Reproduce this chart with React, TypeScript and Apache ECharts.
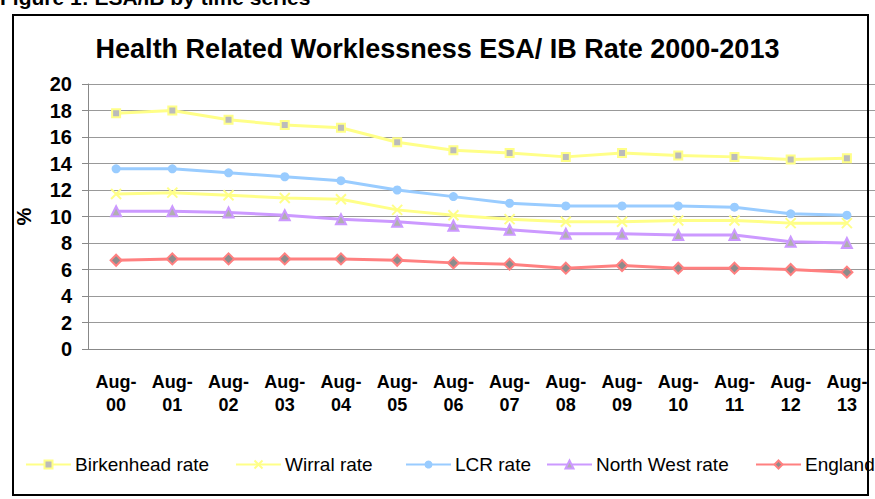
import React, { useEffect, useRef } from "react";
import * as echarts from "echarts";

const categories = ["Aug-\n00", "Aug-\n01", "Aug-\n02", "Aug-\n03", "Aug-\n04", "Aug-\n05", "Aug-\n06", "Aug-\n07", "Aug-\n08", "Aug-\n09", "Aug-\n10", "Aug-\n11", "Aug-\n12", "Aug-\n13"];
const birkenhead = [17.8, 18.0, 17.3, 16.9, 16.7, 15.6, 15.0, 14.8, 14.5, 14.8, 14.6, 14.5, 14.3, 14.4];
const wirral = [11.7, 11.8, 11.6, 11.4, 11.3, 10.5, 10.1, 9.8, 9.6, 9.6, 9.7, 9.7, 9.5, 9.5];
const lcr = [13.6, 13.6, 13.3, 13.0, 12.7, 12.0, 11.5, 11.0, 10.8, 10.8, 10.8, 10.7, 10.2, 10.1];
const northWest = [10.4, 10.4, 10.3, 10.1, 9.8, 9.6, 9.3, 9.0, 8.7, 8.7, 8.6, 8.6, 8.1, 8.0];
const england = [6.7, 6.8, 6.8, 6.8, 6.8, 6.7, 6.5, 6.4, 6.1, 6.3, 6.1, 6.1, 6.0, 5.8];
const seriesNames = ["Birkenhead rate", "Wirral rate", "LCR rate", "North West rate", "England"];
const legendLeft = [25, 235, 405, 546, 755];

const FONT = "'Liberation Sans', Arial, sans-serif";
const YELLOW = "#FFFF88";
const BLUE = "#99CCFF";
const PURPLE = "#CC99FF";
const RED = "#FF8080";

export default function App() {
  const ref = useRef<HTMLDivElement>(null);
  useEffect(() => {
    document.body.style.margin = "0";
    const chart = echarts.init(ref.current!, null, { renderer: "svg" });
    const lineBase = (name: string, data: number[], color: string, extra: any) => ({
      name,
      type: "line",
      data,
      lineStyle: { color, width: 3 },
      ...extra,
    });
    chart.setOption({
      animation: false,
      backgroundColor: "#fff",
      textStyle: { fontFamily: FONT },
      title: {
        text: "Health Related Worklessness ESA/ IB Rate 2000-2013",
        left: "center",
        top: 30,
        textStyle: { fontFamily: FONT, fontWeight: "bold", fontSize: 27, color: "#000" },
      },
      grid: { left: 88, right: -7, top: 84, bottom: 150 },
      legend: seriesNames.map((n, i) => ({
        data: [n],
        left: legendLeft[i],
        top: 455,
        padding: 0,
        itemGap: 0,
        itemWidth: 45,
        itemHeight: 10,
        textStyle: { fontFamily: FONT, fontSize: 19, color: "#000", padding: [0, 0, 0, -1] },
      })),
      xAxis: {
        type: "category",
        data: categories,
        boundaryGap: true,
        axisLine: { lineStyle: { color: "#888", width: 1 } },
        axisTick: { length: 5, lineStyle: { color: "#888" } },
        axisLabel: {
          interval: 0,
          margin: 21,
          color: "#000",
          fontFamily: FONT,
          fontWeight: "bold",
          fontSize: 18,
          lineHeight: 23,
        },
      },
      yAxis: {
        type: "value",
        min: 0,
        max: 20,
        interval: 2,
        name: "%",
        nameLocation: "middle",
        nameRotate: 90,
        nameGap: 54,
        nameTextStyle: { fontFamily: FONT, fontWeight: "bold", fontSize: 20, color: "#000" },
        axisLine: { show: true, lineStyle: { color: "#888", width: 1 } },
        axisTick: { show: true, length: 6, lineStyle: { color: "#888" } },
        axisLabel: { margin: 16, color: "#000", fontFamily: FONT, fontWeight: "bold", fontSize: 20 },
        splitLine: { lineStyle: { color: "#999", width: 1 } },
      },
      graphic: [
        {
          type: "text",
          left: 0,
          top: -13,
          style: { text: "Figure 1: ESA/IB by time series", font: "bold 21px 'Liberation Sans', Arial, sans-serif", fill: "#000" },
        },
        {
          type: "rect",
          shape: { x: 13, y: 15, width: 855, height: 480 },
          style: { fill: "none", stroke: "#000", lineWidth: 2 },
          silent: true,
          z: 100,
        },
      ],
      series: [
        lineBase(seriesNames[0], birkenhead, YELLOW, {
          symbol: "rect",
          symbolSize: 8,
          itemStyle: { color: "#BBBBBB", borderColor: YELLOW, borderWidth: 2 },
        }),
        lineBase(seriesNames[1], wirral, YELLOW, {
          symbol: "path://M0,0L10,10M10,0L0,10",
          symbolSize: 10,
          itemStyle: { color: YELLOW, borderColor: YELLOW, borderWidth: 2 },
        }),
        lineBase(seriesNames[2], lcr, BLUE, {
          symbol: "circle",
          symbolSize: 9,
          itemStyle: { color: BLUE, borderColor: BLUE, borderWidth: 0 },
        }),
        lineBase(seriesNames[3], northWest, PURPLE, {
          symbol: "triangle",
          symbolSize: 10,
          itemStyle: { color: "#B0B0B0", borderColor: PURPLE, borderWidth: 2 },
        }),
        lineBase(seriesNames[4], england, RED, {
          symbol: "diamond",
          symbolSize: 11,
          itemStyle: { color: "#8C8C8C", borderColor: RED, borderWidth: 2 },
        }),
      ],
    });
    return () => chart.dispose();
  }, []);
  return <div ref={ref} style={{ position: "fixed", left: 0, top: 0, width: 875, height: 499 }} />;
}
